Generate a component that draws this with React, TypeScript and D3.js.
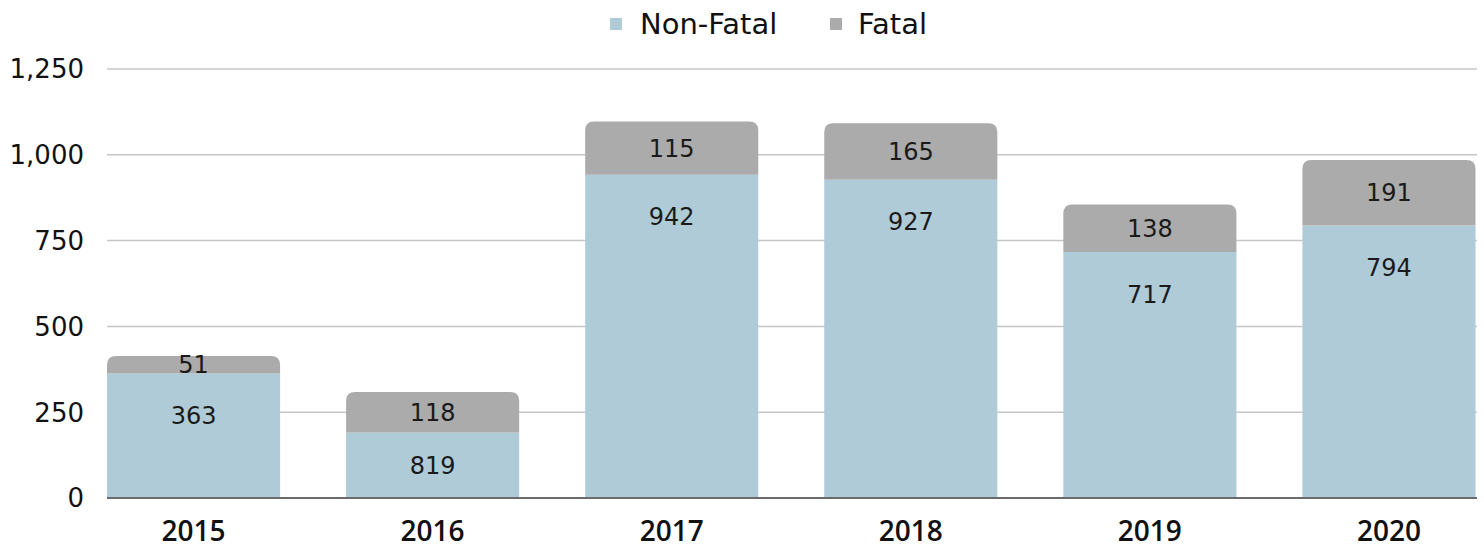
import * as d3 from "d3"

// values
const years = ["2015", "2016", "2017", "2018", "2019", "2020"]
const nonFatal = [363, 191, 942, 927, 717, 794]
const fatal = [51, 118, 155, 165, 138, 191]
// the printed data labels (as shown on the chart)
const nonFatalLabels = ["363", "819", "942", "927", "717", "794"]
const fatalLabels = ["51", "118", "115", "165", "138", "191"]
const yTicks = [0, 250, 500, 750, 1000, 1250]

const W = 1484
const H = 548
const FONT = "'DejaVu Sans', sans-serif"
const BLUE = "#afcbd8"
const GREY = "#ababab"

// rect with rounded top corners only
function topRounded(x: number, y: number, w: number, h: number, r: number) {
  const rr = Math.min(r, h, w / 2)
  return `M${x},${y + h}V${y + rr}Q${x},${y} ${x + rr},${y}H${x + w - rr}Q${x + w},${y} ${x + w},${y + rr}V${y + h}Z`
}

export default function App() {
  const x = d3.scaleBand<string>().domain(years).range([107, 1475.5]).paddingInner(0.276).paddingOuter(0)
  const y = d3.scaleLinear().domain([0, 1250]).range([498, 69])
  const fmt = d3.format(",")
  const bw = x.bandwidth()

  return (
    <svg width={W} height={H} style={{ position: "absolute", left: 0, top: 0, background: "#fff" }} fontFamily={FONT}>
      {/* legend */}
      <g>
        <rect x={610} y={18} width={12} height={12} fill={BLUE} />
        <text x={640} y={24} dy="0.36em" fontSize={29} fill="#111">Non-Fatal</text>
        <rect x={830} y={18} width={12} height={12} fill={GREY} />
        <text x={858} y={24} dy="0.36em" fontSize={29} fill="#111">Fatal</text>
      </g>

      {/* gridlines + y labels */}
      {yTicks.map((t) => (
        <g key={t}>
          {t > 0 && <line x1={107} x2={1477} y1={y(t)} y2={y(t)} stroke="#c6c6c6" strokeWidth={1.5} />}
          <text x={84} y={y(t)} dy="0.36em" textAnchor="end" fontSize={26} fill="#111">{fmt(t)}</text>
        </g>
      ))}

      {/* bars */}
      {years.map((yr, i) => {
        const x0 = x(yr)!
        const nfTop = y(nonFatal[i])
        const fTop = y(nonFatal[i] + fatal[i])
        const nfLabelY = Math.min(nfTop + 42, (nfTop + y(0)) / 2)
        return (
          <g key={yr}>
            <rect x={x0} y={nfTop} width={bw} height={y(0) - nfTop} fill={BLUE} />
            <path d={topRounded(x0, fTop, bw, nfTop - fTop, 9)} fill={GREY} />
            <text x={x0 + bw / 2} y={nfLabelY} dy="0.36em" textAnchor="middle" fontSize={24} fill="#1a1a1a">{nonFatalLabels[i]}</text>
            <text x={x0 + bw / 2} y={(fTop + nfTop) / 2} dy="0.36em" textAnchor="middle" fontSize={24} fill="#1a1a1a">{fatalLabels[i]}</text>
            <text x={x0 + bw / 2} y={531} dy="0.36em" textAnchor="middle" fontSize={28} fontWeight={600} fontFamily="'Open Sans', sans-serif" fill="#111">{yr}</text>
          </g>
        )
      })}

      {/* baseline */}
      <line x1={107} x2={1477} y1={y(0)} y2={y(0)} stroke="#6b6b6b" strokeWidth={2} />
    </svg>
  )
}
